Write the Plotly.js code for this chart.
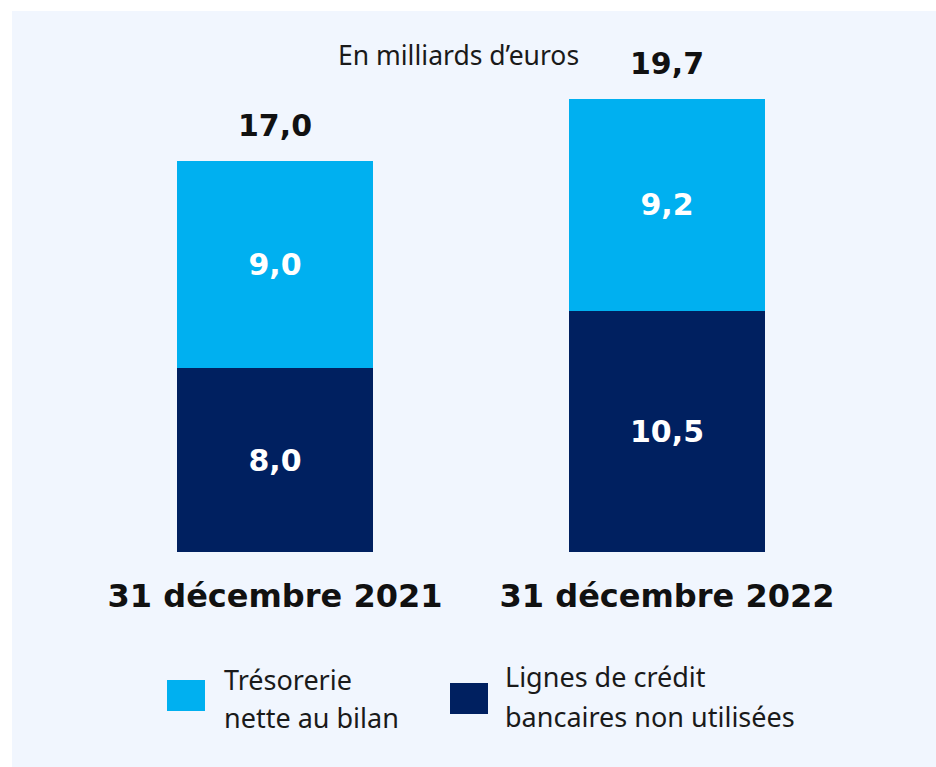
<!DOCTYPE html>
<html>
<head>
<meta charset="utf-8">
<script src="https://cdn.plot.ly/plotly-3.0.1.min.js"></script>
<style>
  html, body { margin: 0; padding: 0; background: #ffffff; }
  #chart { position: absolute; left: 12px; top: 11px; width: 924px; height: 756px; }
</style>
</head>
<body>
<div id="chart"></div>
<script>
// Liquidité du groupe, en milliards d'euros
const dates = ["31 décembre 2021", "31 décembre 2022"];
const tresorerie = [9.0, 9.2];
const lignesCredit = [8.0, 10.5];
const seriesNames = [["Trésorerie", "nette au bilan"], ["Lignes de crédit", "bancaires non utilisées"]];
const unitLabel = "En milliards d’euros";

const lightBlue = "#00b0f0";
const navy = "#002060";
const boldFont = "DejaVu Sans, sans-serif";
const textFont = "Noto Sans, sans-serif";

const totals = dates.map((d, i) => lignesCredit[i] + tresorerie[i]);
const fmt = v => v.toFixed(1).replace(".", ",");

const traces = [
    {
        x: dates,
        y: lignesCredit,
        type: "bar",
        name: seriesNames[1].join(" "),
        marker: { color: navy },
        text: lignesCredit.map(fmt),
        textposition: "inside",
        insidetextanchor: "middle",
        textfont: { color: "white", size: 30, family: boldFont, weight: "bold" },
        hoverinfo: "skip"
    },
    {
        x: dates,
        y: tresorerie,
        type: "bar",
        name: seriesNames[0].join(" "),
        marker: { color: lightBlue },
        text: tresorerie.map(fmt),
        textposition: "inside",
        insidetextanchor: "middle",
        textfont: { color: "white", size: 30, family: boldFont, weight: "bold" },
        hoverinfo: "skip"
    }
];

// totals above bars
const annotations = dates.map((d, i) => ({
    x: d, y: totals[i], xref: "x", yref: "y",
    text: "<b>" + fmt(totals[i]) + "</b>",
    showarrow: false, yanchor: "bottom", yshift: 16,
    font: { size: 30, color: "#111111", family: boldFont }
}));

annotations.push({
    x: 0.4845, y: 0.982, xref: "paper", yref: "paper",
    text: unitLabel, showarrow: false, xanchor: "center", yanchor: "middle",
    font: { size: 26.5, color: "#1a1a1a", family: textFont }
});

// legend drawn by hand so the swatches can be large
// (page pixel positions, converted to paper coords below)
const legendItems = [
    { lines: seriesNames[0], color: lightBlue, sx: 167, sy: 680, tx: 224, ty: [680, 718] },
    { lines: seriesNames[1], color: navy, sx: 450, sy: 683, tx: 505, ty: [676, 716] }
];
const px = x => (x - 12 - 67) / 784;
const py = y => (541 - (y - 11)) / 506;
const shapes = [];
legendItems.forEach(it => {
    shapes.push({
        type: "rect", xref: "paper", yref: "paper",
        x0: px(it.sx), x1: px(it.sx + 38),
        y0: py(it.sy + 31), y1: py(it.sy),
        fillcolor: it.color, line: { width: 0 }
    });
    it.lines.forEach((ln, k) => {
        annotations.push({
            x: px(it.tx), y: py(it.ty[k]), xref: "paper", yref: "paper",
            text: ln, showarrow: false, xanchor: "left", yanchor: "middle", align: "left",
            xshift: -2,
            font: { size: 27, color: "#1a1a1a", family: textFont }
        });
    });
});

const layout = {
    paper_bgcolor: "#f1f6fe",
    plot_bgcolor: "#f1f6fe",
    width: 924,
    height: 756,
    margin: { t: 35, l: 67, r: 73, b: 215 },
    barmode: "stack",
    bargap: 0.5,
    showlegend: false,
    separators: ", ",
    xaxis: {
        type: "category",
        range: [-0.5, 1.5],
        showline: false, showgrid: false, zeroline: false,
        ticks: "",
        tickfont: { size: 32, color: "#111111", family: boldFont, weight: "bold" },
        ticklabelstandoff: 22
    },
    yaxis: {
        range: [0, 22],
        visible: false,
        showgrid: false, zeroline: false
    },
    annotations: annotations,
    shapes: shapes
};

Plotly.newPlot("chart", traces, layout, { displayModeBar: false, staticPlot: true });
</script>
</body>
</html>
